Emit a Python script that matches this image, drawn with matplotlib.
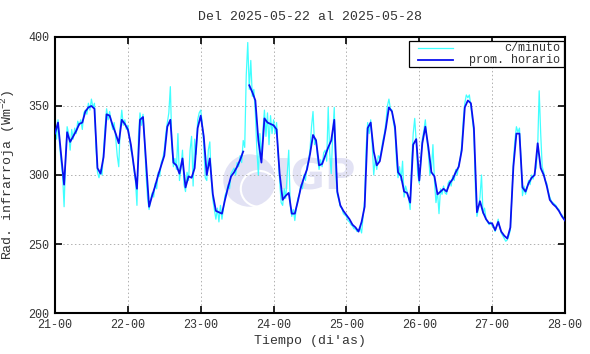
import numpy as np
import matplotlib
matplotlib.use("Agg")
import matplotlib.pyplot as plt
from matplotlib.patches import Rectangle, Ellipse
from matplotlib.lines import Line2D

plt.rcParams['font.family'] = ['Liberation Mono', 'DejaVu Sans Mono']
plt.rcParams['mathtext.fontset'] = 'custom'
plt.rcParams['mathtext.rm'] = 'Liberation Mono'

titulo = "Del 2025-05-22 al 2025-05-28"
dia_inicio = 21
dias = [21, 22, 23, 24, 25, 26, 27, 28]
etiquetas = ["21-00", "22-00", "23-00", "24-00", "25-00", "26-00", "27-00", "28-00"]

# promedio horario (W/m2), una cifra por hora desde 21-00 hasta 28-00
horario = [
    330, 338, 315, 293, 331, 324, 328, 332, 337, 338, 346, 349,
    350, 348, 305, 301, 313, 344, 343, 336, 330, 323, 340, 337,
    333, 322, 306, 290, 340, 342, 310, 277, 285, 292, 300, 307,
    314, 335, 340, 309, 307, 301, 312, 291, 299, 298, 305, 334,
    343, 328, 300, 312, 286, 274, 273, 272, 282, 291, 299, 302,
    306, 311, 317, np.nan, 365, 360, 354, 325, 309, 341, 338, 337,
    336, 333, 301, 282, 285, 287, 272, 272, 281, 291, 298, 304,
    315, 329, 325, 307, 308, 314, 320, 325, 340, 288, 278, 274,
    271, 268, 264, 262, 259, 266, 277, 334, 338, 317, 307, 310,
    322, 334, 349, 346, 335, 302, 299, 288, 287, 280, 322, 326,
    296, 323, 335, 320, 302, 299, 286, 288, 290, 288, 294, 297,
    302, 306, 318, 349, 354, 352, 334, 273, 281, 273, 268, 265,
    265, 260, 266, 259, 256, 254, 262, 306, 330, 330, 291, 288,
    294, 298, 300, 323, 305, 300, 292, 282, 279, 277, 274, 270,
    267,
]

# datos c/minuto leidos cada media hora
minuto = [
    345, 326, 340, 322, 310, 300, 277, 312, 335, 330, 318, 333,
    326, 334, 330, 339, 336, 340, 333, 345, 347, 344, 352, 347,
    355, 349, 352, 320, 302, 298, 304, 300, 318, 335, 348, 340,
    346, 339, 333, 338, 327, 314, 306, 335, 347, 336, 340, 333,
    336, 328, 318, 314, 304, 296, 278, 328, 345, 336, 344, 325,
    300, 283, 275, 282, 287, 284, 294, 290, 302, 299, 309, 312,
    318, 330, 338, 345, 364, 322, 306, 312, 304, 330, 296, 305,
    318, 293, 288, 302, 296, 318, 328, 292, 326, 315, 340, 345,
    347, 338, 322, 298, 296, 318, 324, 296, 282, 275, 268, 276,
    266, 278, 268, 276, 285, 288, 293, 290, 301, 303, 305, 300,
    309, 306, 314, 309, 325, 320, 372, 396, 362, 383, 357, 362,
    345, 318, 300, 330, 312, 333, 347, 328, 345, 322, 343, 330,
    340, 330, 338, 315, 296, 280, 278, 290, 283, 300, 318, 278,
    270, 275, 267, 276, 283, 286, 293, 290, 300, 296, 306, 310,
    318, 335, 346, 322, 326, 312, 304, 311, 306, 316, 318, 310,
    349, 316, 301, 330, 349, 300, 286, 282, 277, 276, 272, 271,
    270, 267, 266, 264, 263, 261, 261, 259, 260, 262, 258, 270,
    282, 320, 338, 330, 340, 322, 300, 312, 304, 314, 312, 318,
    325, 330, 338, 350, 355, 348, 347, 338, 332, 310, 298, 306,
    296, 310, 284, 292, 288, 283, 275, 310, 330, 341, 324, 300,
    294, 310, 326, 332, 340, 326, 316, 300, 304, 322, 296, 280,
    288, 272, 290, 286, 292, 287, 286, 294, 296, 292, 299, 296,
    304, 300, 308, 312, 322, 340, 352, 358, 356, 358, 350, 340,
    330, 290, 270, 276, 284, 300, 272, 276, 268, 266, 264, 266,
    263, 262, 259, 263, 268, 262, 258, 256, 254, 252, 253, 256,
    260, 284, 310, 325, 335, 331, 334, 312, 285, 292, 286, 290,
    296, 293, 300, 297, 302, 305, 320, 361, 330, 306, 302, 296,
    294, 288, 284, 281, 280, 279, 278, 276, 275, 272, 271, 269,
    267,
]

t_h = dia_inicio + np.arange(len(horario)) / 24.0
t_m = dia_inicio + np.arange(len(minuto)) / 48.0

fig = plt.figure(figsize=(5.9, 3.54), dpi=100)
ax = fig.add_axes([0.0932, 0.1158, 0.8644, 0.7797])

# marca de agua IGP
ax.add_patch(Ellipse((23.67, 296), 0.72, 38, color='#e2e2f4', zorder=0, ec='none'))
ax.add_patch(Ellipse((23.80, 290), 0.50, 26, fill=False, ec='white', lw=1.5, zorder=0))
ax.text(24.58, 298, "IGP", fontsize=30, fontweight='bold', family='DejaVu Sans',
        color='#e2e2f4', ha='center', va='center', zorder=0)

ax.plot(t_m, minuto, color='#40ffff', lw=0.9, zorder=2)
ax.plot(t_h, horario, color='#0a10f0', lw=1.3, zorder=3)

ax.set_xlim(21, 28)
ax.set_ylim(200, 400)
ax.set_xticks(dias)
ax.set_xticklabels(etiquetas)
ax.set_yticks([200, 250, 300, 350, 400])
ax.grid(True, color='#b0b0b0', ls=(0, (1.5, 2.5)), lw=0.7)
ax.tick_params(direction='in', length=5, width=1.2, top=True, right=True,
               labelsize=8.5, pad=4, color='black', labelcolor='#333333')
for s in ax.spines.values():
    s.set_linewidth(1.5)

ax.set_title(titulo, fontsize=9.5, pad=12, color='#333333')
ax.set_xlabel("Tiempo (di'as)", fontsize=9.5, labelpad=3, color='#333333')
ax.set_ylabel("Rad. infrarroja (Wm$^{-2}$)", fontsize=9.5, labelpad=8, color='#333333')

# leyenda estilo gnuplot
ax.add_patch(Rectangle((0.694, 0.890), 0.304, 0.097, transform=ax.transAxes,
                       fill=True, fc='white', ec='black', lw=0.9, zorder=5))
ax.add_line(Line2D([0.712, 0.781], [0.961, 0.961], transform=ax.transAxes,
                   color='#40ffff', lw=0.9, zorder=6))
ax.add_line(Line2D([0.712, 0.781], [0.917, 0.917], transform=ax.transAxes,
                   color='#0a10f0', lw=1.3, zorder=6))
ax.text(0.990, 0.961, "c/minuto", transform=ax.transAxes, ha='right',
        va='center', fontsize=8.5, zorder=6, color='#333333')
ax.text(0.990, 0.917, "prom. horario", transform=ax.transAxes, ha='right',
        va='center', fontsize=8.5, zorder=6, color='#333333')

fig.savefig("out.png", dpi=100)
